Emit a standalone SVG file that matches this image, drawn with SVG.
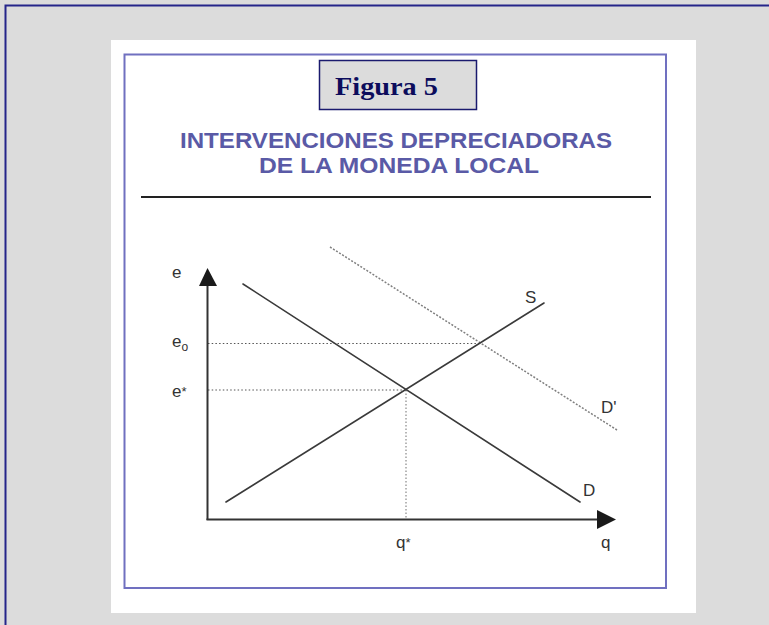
<svg xmlns="http://www.w3.org/2000/svg" width="769" height="625" viewBox="0 0 769 625">
<style>
.axis{stroke:#333;stroke-width:2;fill:none}
.curve{stroke:#3a3a3a;stroke-width:1.6;fill:none;stroke-linecap:round}
.guide{stroke:#555;stroke-width:1.2;stroke-dasharray:1.5 2.2;fill:none}
.guide2{stroke:#888;stroke-width:1.2;stroke-dasharray:1.5 2;fill:none}
.shift{stroke:#808080;stroke-width:1.5;stroke-dasharray:2 1.6;fill:none}
.lbl{font-family:"Liberation Sans",Arial,sans-serif;font-size:17px;fill:#333}
.title{font-family:"Liberation Sans",Arial,sans-serif;font-size:21.5px;font-weight:bold;fill:#5a5aa6}
</style>
<rect x="0" y="0" width="769" height="625" fill="#dcdcdc"/>
<rect x="5.5" y="5.5" width="800" height="700" fill="none" stroke="#25258a" stroke-width="2"/>
<rect x="111" y="40" width="585" height="573" fill="#ffffff"/>
<rect x="124.5" y="54.5" width="541.5" height="533.5" fill="none" stroke="#7070c0" stroke-width="2"/>
<g id="figura-label">
<rect x="319.5" y="60.5" width="157" height="49" fill="#dcdcdc" stroke="#1a1a6e" stroke-width="1.5"/>
<text x="335" y="95" font-family="'Liberation Serif','Times New Roman',serif" font-size="24.5" font-weight="bold" fill="#0c0c5c" textLength="103" lengthAdjust="spacingAndGlyphs">Figura 5</text>
</g>
<g id="title">
<text class="title" x="180" y="148" textLength="432" lengthAdjust="spacingAndGlyphs">INTERVENCIONES DEPRECIADORAS</text>
<text class="title" x="259" y="173" textLength="280" lengthAdjust="spacingAndGlyphs">DE LA MONEDA LOCAL</text>
</g>
<line x1="141" y1="197" x2="651" y2="197" stroke="#222" stroke-width="2"/>
<g id="connectors">
<line class="guide" x1="208" y1="343.5" x2="480" y2="343.5"/>
<line class="guide" x1="208" y1="390" x2="406" y2="390"/>
<line class="guide2" x1="406" y1="390" x2="406" y2="518"/>
<line class="shift" x1="330" y1="247" x2="617" y2="430"/>
<line class="curve" x1="243" y1="284" x2="580" y2="502"/>
<line class="curve" x1="226" y1="502" x2="544" y2="303"/>
</g>
<g id="y-axis">
<line class="axis" x1="207.5" y1="520" x2="207.5" y2="284"/>
<polygon points="207.5,268 199,286 217,286" fill="#1a1a1a"/>
<text class="lbl" x="172" y="278">e</text>
</g>
<g id="x-axis">
<line class="axis" x1="206.5" y1="519.5" x2="599" y2="519.5"/>
<polygon points="616,519.5 597,510 597,529" fill="#1a1a1a"/>
<text class="lbl" x="601" y="548">q</text>
</g>
<g id="label-e0"><text class="lbl" x="172" y="347">e<tspan font-size="12" dy="4">o</tspan></text></g>
<g id="label-estar"><text class="lbl" x="172" y="397">e<tspan font-size="13" dy="-1">*</tspan></text></g>
<g id="label-qstar"><text class="lbl" x="396" y="548">q<tspan font-size="13" dy="-1">*</tspan></text></g>
<g id="label-S"><text class="lbl" x="525" y="303">S</text></g>
<g id="label-Dprime"><text class="lbl" x="601" y="413">D'</text></g>
<g id="label-D"><text class="lbl" x="583" y="496">D</text></g>
</svg>
